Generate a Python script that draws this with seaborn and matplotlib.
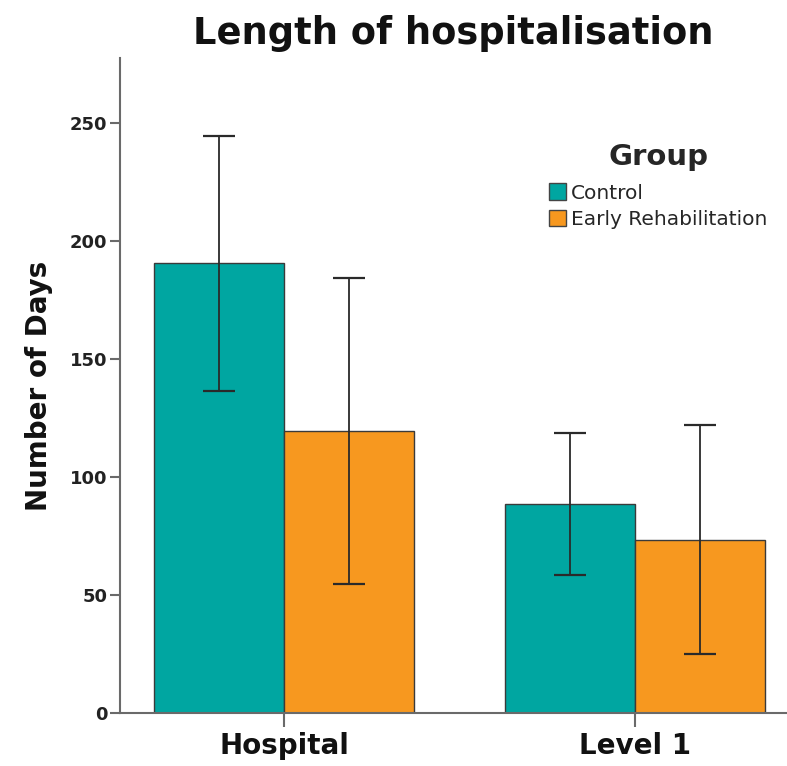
import matplotlib
matplotlib.use("Agg")
import matplotlib.pyplot as plt
import seaborn as sns
import pandas as pd

# Summary values: mean length of stay and error-bar half widths (days)
locations = ["Hospital", "Level 1"]
groups = ["Control", "Early Rehabilitation"]
control_days = [190.5, 88.5]
early_rehab_days = [119.5, 73.5]
control_err = [54.0, 30.0]
early_rehab_err = [65.0, 48.5]
y_ticks = [0, 50, 100, 150, 200, 250]

colors = {"Control": "#00A6A1", "Early Rehabilitation": "#F7981F"}

df = pd.DataFrame({
    "Location": locations * 2,
    "Group": [groups[0]] * 2 + [groups[1]] * 2,
    "Days": control_days + early_rehab_days,
})
errors = {"Control": control_err, "Early Rehabilitation": early_rehab_err}

sns.set_theme(style="white")
plt.rcParams["font.family"] = ["DejaVu Sans"]

fig = plt.figure(figsize=(7.87, 7.66), dpi=100)
ax = fig.add_axes([120 / 787, 53 / 766, 1 - 120 / 787, 655 / 766])

sns.barplot(data=df, x="Location", y="Days", hue="Group", order=locations,
            hue_order=groups, palette=colors, width=0.74, gap=0,
            edgecolor="#3a3a3a", linewidth=1.0, errorbar=None, ax=ax,
            saturation=1)

# Error bars centred on each drawn bar
for container, g in zip(ax.containers, groups):
    xs = [b.get_x() + b.get_width() / 2 for b in container]
    hs = [b.get_height() for b in container]
    ax.errorbar(xs, hs, yerr=errors[g], fmt="none", ecolor="#2a2a2a",
                elinewidth=1.3, capsize=11.5, capthick=1.6, zorder=5)

ax.set_xlim(-0.467, 1.433)
ax.set_ylim(0, 277.5)
ax.set_yticks(y_ticks)
ax.set_yticklabels([str(t) for t in y_ticks], fontsize=13, fontweight="bold",
                   color="#222222")
ax.set_xticks([0, 1])
ax.set_xticklabels(locations, fontsize=20, fontweight="bold", color="#111111")
ax.set_xlabel("")
ax.set_ylabel("Number of Days", fontsize=20, fontweight="bold",
              color="#111111", labelpad=12)
ax.set_title("Length of hospitalisation", fontsize=26.5, fontweight="bold",
             color="#111111", pad=10)

for side in ["top", "right"]:
    ax.spines[side].set_visible(False)
for side in ["left", "bottom"]:
    ax.spines[side].set_color("#6a6a6a")
    ax.spines[side].set_linewidth(1.5)
ax.tick_params(axis="y", direction="out", length=7, width=1.5,
               color="#6a6a6a", left=True, pad=2)
ax.tick_params(axis="x", direction="out", length=10, width=1.5,
               color="#6a6a6a", bottom=True, pad=4)

leg = ax.legend(title="Group", frameon=False, loc="upper left",
                bbox_to_anchor=(549 / 787, 1 - 143 / 766),
                bbox_transform=fig.transFigure, fontsize=14.5,
                title_fontproperties={"size": 21, "weight": "bold"},
                handlelength=0.85, handleheight=0.85, handletextpad=0.25,
                labelspacing=0.35, borderpad=0, borderaxespad=0)
leg._legend_box.sep = 9
for h in leg.legend_handles:
    h.set_edgecolor("#444444")
    h.set_linewidth(1.0)

fig.savefig("out.png", dpi=100)
